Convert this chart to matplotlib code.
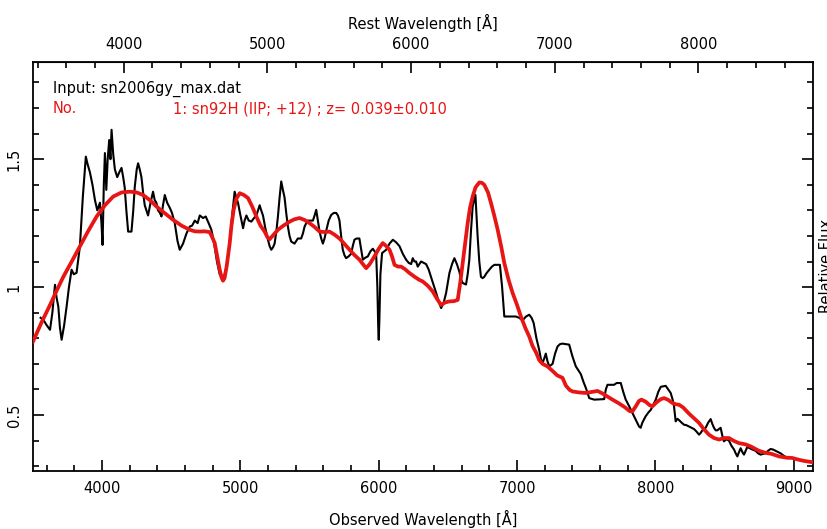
import matplotlib.pyplot as plt
import numpy as np
from matplotlib.ticker import MultipleLocator, FixedLocator, FuncFormatter

z = 0.039

# observed spectrum (black)
obs_wave = [3555, 3575, 3600, 3623, 3640, 3659, 3670, 3683, 3695, 3707, 3725, 3743, 3760, 3779,
            3795, 3815, 3825, 3839, 3860, 3882, 3895, 3911, 3930, 3948, 3965, 3984, 3995, 4003,
            4012, 4020, 4030, 4040, 4051, 4060, 4068, 4080, 4092, 4109, 4125, 4140, 4152, 4163,
            4175, 4188, 4212, 4225, 4236, 4250, 4260, 4272, 4284, 4296, 4308, 4320, 4332, 4350,
            4368, 4380, 4392, 4404, 4418, 4429, 4440, 4453, 4470, 4489, 4505, 4525, 4545, 4561,
            4575, 4585, 4610, 4634, 4650, 4670, 4690, 4706, 4730, 4749, 4770, 4790, 4810, 4830,
            4850, 4875, 4900, 4922, 4940, 4958, 4970, 4982, 5000, 5019, 5030, 5043, 5060, 5079,
            5098, 5115, 5127, 5139, 5150, 5163, 5180, 5199, 5211, 5223, 5235, 5247, 5260, 5271,
            5283, 5295, 5307, 5319, 5331, 5343, 5355, 5367, 5391, 5415, 5439, 5452, 5464, 5476,
            5488, 5524, 5536, 5548, 5560, 5572, 5584, 5596, 5608, 5620, 5638, 5656, 5675, 5692,
            5705, 5716, 5728, 5740, 5752, 5764, 5782, 5800, 5812, 5824, 5840, 5860, 5872, 5885,
            5903, 5921, 5940, 5957, 5970, 5981, 5990, 5996, 6000, 6005, 6012, 6024, 6040, 6054,
            6078, 6102, 6126, 6150, 6174, 6198, 6216, 6234, 6246, 6258, 6270, 6282, 6294, 6306,
            6324, 6342, 6360, 6378, 6396, 6415, 6433, 6451, 6470, 6487, 6500, 6511, 6530, 6547,
            6565, 6583, 6595, 6607, 6631, 6643, 6655, 6667, 6679, 6699, 6707, 6715, 6727, 6739,
            6751, 6763, 6780, 6800, 6818, 6836, 6876, 6892, 6908, 6992, 7015, 7040, 7065, 7088,
            7105, 7120, 7140, 7160, 7172, 7184, 7196, 7208, 7220, 7233, 7245, 7257, 7275, 7293,
            7311, 7329, 7377, 7400, 7425, 7443, 7461, 7480, 7498, 7522, 7558, 7630, 7642, 7654,
            7702, 7720, 7750, 7768, 7786, 7810, 7834, 7858, 7882, 7894, 7906, 7930, 7950, 7967,
            7985, 8003, 8021, 8039, 8075, 8093, 8111, 8125, 8135, 8147, 8160, 8171, 8190, 8207,
            8225, 8243, 8262, 8280, 8298, 8316, 8328, 8340, 8352, 8364, 8382, 8400, 8412, 8424,
            8436, 8448, 8460, 8472, 8484, 8496, 8514, 8532, 8550, 8569, 8581, 8593, 8605, 8617,
            8629, 8641, 8653, 8665, 8683, 8701, 8725, 8743, 8761, 8779, 8797, 8815, 8833, 8851,
            8869, 8888, 8906, 8930, 8954]
obs_flux = [0.88, 0.872, 0.85, 0.833, 0.90, 1.009, 0.96, 0.924, 0.84, 0.794, 0.85, 0.924, 1.00, 1.068,
            1.05, 1.056, 1.10, 1.159, 1.35, 1.51, 1.48, 1.45, 1.40, 1.34, 1.30, 1.33, 1.25, 1.165,
            1.40, 1.524, 1.38, 1.50, 1.575, 1.50, 1.615, 1.52, 1.46, 1.43, 1.45, 1.466, 1.43, 1.39,
            1.30, 1.217, 1.217, 1.30, 1.393, 1.46, 1.484, 1.46, 1.43, 1.37, 1.32, 1.30, 1.28, 1.33,
            1.373, 1.34, 1.33, 1.30, 1.29, 1.276, 1.32, 1.36, 1.33, 1.31, 1.29, 1.25, 1.18, 1.146,
            1.16, 1.17, 1.21, 1.237, 1.24, 1.26, 1.25, 1.28, 1.27, 1.276, 1.25, 1.224, 1.17, 1.10,
            1.05, 1.028, 1.08, 1.17, 1.28, 1.373, 1.35, 1.33, 1.28, 1.23, 1.26, 1.28, 1.26, 1.256,
            1.27, 1.28, 1.30, 1.32, 1.30, 1.28, 1.23, 1.185, 1.16, 1.146, 1.155, 1.17, 1.22, 1.276,
            1.35, 1.413, 1.38, 1.35, 1.29, 1.237, 1.20, 1.178, 1.17, 1.19, 1.19, 1.21, 1.237, 1.25,
            1.26, 1.26, 1.28, 1.302, 1.26, 1.217, 1.19, 1.17, 1.19, 1.22, 1.26, 1.282, 1.29, 1.29,
            1.28, 1.26, 1.20, 1.146, 1.125, 1.113, 1.12, 1.13, 1.16, 1.185, 1.19, 1.19, 1.15, 1.107,
            1.115, 1.12, 1.14, 1.15, 1.14, 1.133, 1.00, 0.85, 0.794, 0.88, 1.05, 1.133, 1.14, 1.146,
            1.17, 1.185, 1.175, 1.16, 1.13, 1.107, 1.095, 1.09, 1.113, 1.10, 1.10, 1.08, 1.09, 1.10,
            1.095, 1.09, 1.07, 1.04, 1.01, 0.977, 0.945, 0.918, 0.94, 0.977, 1.02, 1.055, 1.09, 1.113,
            1.09, 1.06, 1.03, 1.016, 1.01, 1.05, 1.107, 1.22, 1.315, 1.36, 1.28, 1.198, 1.10, 1.04,
            1.035, 1.04, 1.055, 1.068, 1.08, 1.087, 1.087, 1.00, 0.885, 0.885, 0.88, 0.87, 0.885, 0.892,
            0.88, 0.86, 0.80, 0.755, 0.72, 0.703, 0.72, 0.74, 0.71, 0.69, 0.695, 0.70, 0.74, 0.768,
            0.777, 0.779, 0.775, 0.73, 0.69, 0.675, 0.66, 0.63, 0.605, 0.566, 0.56, 0.562, 0.60, 0.618,
            0.618, 0.625, 0.625, 0.59, 0.56, 0.535, 0.508, 0.48, 0.455, 0.45, 0.47, 0.495, 0.51, 0.52,
            0.54, 0.56, 0.59, 0.61, 0.614, 0.60, 0.586, 0.56, 0.534, 0.475, 0.485, 0.48, 0.47, 0.462,
            0.46, 0.455, 0.45, 0.445, 0.435, 0.423, 0.43, 0.44, 0.445, 0.45, 0.47, 0.484, 0.465, 0.45,
            0.44, 0.44, 0.445, 0.45, 0.42, 0.397, 0.405, 0.40, 0.38, 0.365, 0.35, 0.338, 0.355, 0.37,
            0.355, 0.345, 0.36, 0.375, 0.37, 0.365, 0.36, 0.35, 0.345, 0.348, 0.35, 0.36, 0.367, 0.365,
            0.36, 0.355, 0.35, 0.34, 0.332]

# template sn92H (red)
tmp_wave = [3500, 3560, 3623, 3670, 3719, 3780, 3839, 3900, 3960, 4020, 4080, 4140, 4200, 4250,
            4296, 4345, 4393, 4450, 4513, 4575, 4634, 4670, 4706, 4740, 4778, 4800, 4814, 4832,
            4850, 4865, 4874, 4885, 4900, 4922, 4935, 4950, 4970, 4995, 5025, 5055, 5085, 5115,
            5145, 5175, 5195, 5211, 5240, 5271, 5310, 5356, 5390, 5428, 5465, 5500, 5536, 5572,
            5610, 5644, 5680, 5716, 5750, 5789, 5825, 5861, 5885, 5909, 5935, 5969, 6000, 6029,
            6055, 6078, 6096, 6114, 6140, 6162, 6190, 6222, 6260, 6294, 6318, 6355, 6390, 6420,
            6451, 6480, 6511, 6545, 6571, 6590, 6607, 6625, 6643, 6660, 6679, 6700, 6727, 6745,
            6763, 6790, 6812, 6835, 6860, 6885, 6908, 6938, 6968, 7000, 7028, 7060, 7088, 7112,
            7137, 7160, 7184, 7220, 7257, 7290, 7329, 7353, 7380, 7401, 7450, 7498, 7540, 7582,
            7615, 7642, 7690, 7738, 7780, 7815, 7834, 7860, 7882, 7900, 7930, 7960, 7979, 8010,
            8040, 8063, 8090, 8123, 8147, 8171, 8200, 8244, 8280, 8316, 8350, 8388, 8424, 8460,
            8500, 8532, 8570, 8605, 8653, 8690, 8749, 8797, 8840, 8894, 8950, 8990, 9037, 9080, 9140]
tmp_flux = [0.787, 0.86, 0.93, 0.985, 1.04, 1.10, 1.159, 1.22, 1.276, 1.32, 1.354, 1.37, 1.373, 1.37,
            1.36, 1.34, 1.315, 1.29, 1.263, 1.24, 1.224, 1.218, 1.217, 1.218, 1.215, 1.19, 1.172, 1.12,
            1.068, 1.035, 1.025, 1.035, 1.08, 1.17, 1.24, 1.30, 1.345, 1.367, 1.36, 1.348, 1.315, 1.276,
            1.24, 1.217, 1.195, 1.187, 1.205, 1.224, 1.24, 1.256, 1.265, 1.27, 1.262, 1.25, 1.235, 1.217,
            1.215, 1.217, 1.205, 1.19, 1.17, 1.146, 1.125, 1.107, 1.09, 1.074, 1.09, 1.12, 1.15, 1.172,
            1.16, 1.146, 1.12, 1.087, 1.08, 1.08, 1.07, 1.055, 1.04, 1.028, 1.022, 1.005, 0.983, 0.955,
            0.93, 0.94, 0.944, 0.945, 0.95, 1.02, 1.094, 1.175, 1.25, 1.31, 1.354, 1.39, 1.409, 1.408,
            1.40, 1.37, 1.328, 1.28, 1.224, 1.16, 1.094, 1.03, 0.977, 0.93, 0.885, 0.84, 0.807, 0.77,
            0.745, 0.715, 0.70, 0.69, 0.672, 0.655, 0.645, 0.615, 0.598, 0.592, 0.588, 0.586, 0.59, 0.594,
            0.585, 0.576, 0.56, 0.545, 0.53, 0.515, 0.514, 0.535, 0.555, 0.56, 0.552, 0.538, 0.534, 0.55,
            0.562, 0.566, 0.56, 0.547, 0.542, 0.54, 0.53, 0.505, 0.487, 0.469, 0.445, 0.423, 0.41, 0.404,
            0.41, 0.41, 0.398, 0.39, 0.385, 0.377, 0.36, 0.352, 0.348, 0.338, 0.333, 0.332, 0.325, 0.32, 0.315]

rest_ticks = [4000, 5000, 6000, 7000, 8000]
obs_ticks = [4000, 5000, 6000, 7000, 8000, 9000]
flux_ticks = [0.5, 1.0, 1.5]

red = '#e81515'
fs = 10.5

fig = plt.figure(figsize=(8.27, 5.29), dpi=100)
ax = fig.add_axes([33 / 827, 1 - 471 / 529, 780 / 827, 409 / 529])

ax.plot(obs_wave, obs_flux, color='black', lw=1.5, zorder=2)
ax.plot(tmp_wave, tmp_flux, color=red, lw=2.7, zorder=3)

ax.set_xlim(3500, 9140)
ax.set_ylim(0.281, 1.88)

ax.xaxis.set_major_locator(FixedLocator(obs_ticks))
ax.xaxis.set_minor_locator(MultipleLocator(200))
ax.yaxis.set_major_locator(FixedLocator(flux_ticks))
ax.yaxis.set_minor_locator(MultipleLocator(0.1))
ax.yaxis.set_major_formatter(FuncFormatter(lambda v, p: '%g' % v))

ax.tick_params(which='both', direction='in', top=False, right=True, labelsize=fs, width=1.2)
ax.tick_params(which='major', length=8)
ax.tick_params(which='minor', length=4)
ax.tick_params(axis='x', pad=7)
ax.tick_params(axis='y', pad=8)
for lab in ax.get_yticklabels():
    lab.set_rotation(90)
    lab.set_va('center')

for s in ax.spines.values():
    s.set_linewidth(1.3)

sec = ax.secondary_xaxis('top', functions=(lambda x: x / (1 + z), lambda x: x * (1 + z)))
sec.xaxis.set_major_locator(FixedLocator(rest_ticks))
sec.xaxis.set_minor_locator(FixedLocator(list(range(3400, 8801, 200))))
sec.tick_params(which='both', direction='in', labelsize=fs, width=1.2, pad=7)
sec.tick_params(which='major', length=8)
sec.tick_params(which='minor', length=4)
sec.set_xlabel('Rest Wavelength [Å]', fontsize=fs, labelpad=6)

ax.set_xlabel('Observed Wavelength [Å]', fontsize=fs, labelpad=10)

ax.text(0.0256, 0.924, 'Input: sn2006gy_max.dat', transform=ax.transAxes, fontsize=fs, va='baseline')
ax.text(0.0256, 0.875, 'No.', transform=ax.transAxes, fontsize=fs, color=red, va='baseline')
ax.text(0.1795, 0.875, '1: sn92H (IIP; +12) ; z= 0.039±0.010', transform=ax.transAxes,
        fontsize=fs, color=red, va='baseline')

# right-hand label, clipped by the figure edge as in the original plot
fig.text(819 / 827, 1 - 266 / 529, 'Relative Flux', rotation=90, fontsize=fs, ha='left', va='center')

fig.savefig('out.png', dpi=100)
